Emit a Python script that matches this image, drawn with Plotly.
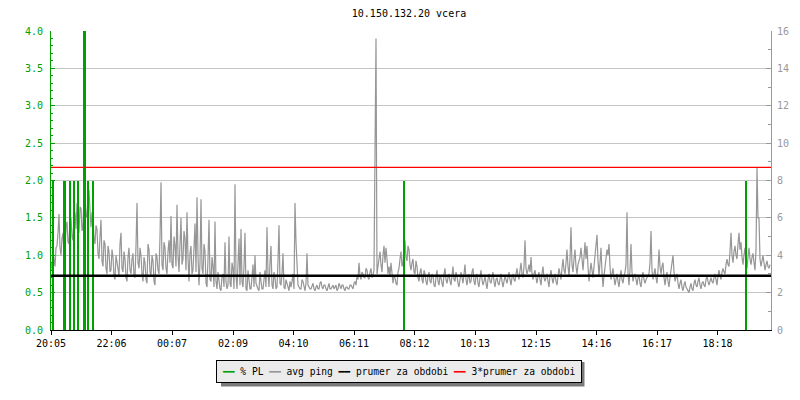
import plotly.graph_objects as go

# ---------------- data ----------------
title_text = "10.150.132.20 vcera"
start_time = "20:05"
span_minutes = 1440
ping_step_minutes = 2
tick_labels = ["20:05", "22:06", "00:07", "02:09", "04:10", "06:11",
               "08:12", "10:13", "12:15", "14:16", "16:17", "18:18"]

# avg ping [ms], one sample every 2 minutes starting 20:05
ping_ms = [
    3.6, 3.2, 4.2, 3.9, 3.4, 4.4, 4.5, 5.2, 6.2, 4.4, 4.0, 4.9, 5.2, 4.1, 4.3, 5.5, 5.8, 4.7, 4.6, 5.9,
    6.0, 5.0, 4.8, 6.1, 6.3, 5.4, 6.8, 5.9, 5.2, 6.6, 6.5, 5.3, 5.6, 7.1, 7.0, 6.0, 6.2, 7.3, 7.5, 6.4,
    5.5, 6.3, 6.0, 4.9, 4.6, 5.6, 5.4, 4.1, 3.8, 5.0, 5.9, 3.7, 3.4, 4.8, 4.6, 3.3, 3.0, 4.5, 4.2, 3.1,
    3.2, 4.3, 3.9, 2.9, 2.7, 4.0, 3.6, 3.0, 2.9, 4.6, 5.2, 3.3, 3.1, 4.2, 3.8, 2.8, 2.6, 3.9, 4.4, 3.2,
    3.0, 3.8, 4.1, 2.9, 2.8, 4.5, 6.8, 3.6, 3.3, 4.4, 4.0, 3.0, 2.6, 3.9, 3.6, 2.7, 2.5, 4.6, 4.3, 3.1,
    2.9, 4.0, 3.7, 2.6, 2.4, 4.1, 3.9, 3.2, 3.0, 5.0, 7.9, 3.5, 3.2, 4.7, 4.4, 3.3, 3.0, 4.2, 4.8, 3.6,
    6.1, 3.5, 3.3, 5.0, 4.5, 3.4, 6.7, 4.0, 3.1, 4.6, 6.0, 3.5, 3.8, 5.3, 4.9, 3.2, 6.3, 3.9, 2.6, 4.1,
    4.5, 3.0, 3.2, 4.4, 5.7, 3.1, 7.1, 4.0, 2.4, 3.6, 7.0, 3.3, 3.0, 4.6, 4.2, 2.5, 2.3, 3.8, 5.9, 2.7,
    2.6, 3.9, 3.4, 2.3, 5.8, 2.6, 2.2, 3.1, 2.5, 2.2, 2.1, 2.9, 3.0, 2.3, 4.7, 2.6, 2.2, 2.4, 5.0, 2.5,
    2.3, 3.6, 3.3, 2.2, 7.8, 2.9, 2.2, 3.8, 4.9, 2.4, 5.4, 2.6, 2.3, 3.4, 5.2, 2.2, 2.1, 3.2, 2.7, 2.2,
    2.2, 2.9, 3.5, 2.3, 4.0, 2.5, 2.3, 2.2, 2.1, 3.1, 2.6, 2.2, 2.2, 2.8, 3.2, 2.3, 5.5, 3.0, 2.3, 3.6,
    4.5, 2.4, 2.2, 3.1, 2.8, 2.2, 2.3, 3.7, 5.6, 2.5, 2.4, 3.0, 4.1, 2.3, 2.2, 2.7, 2.5, 2.2, 2.1, 2.6,
    2.3, 2.6, 3.0, 2.2, 6.8, 4.7, 2.9, 2.4, 2.3, 2.2, 2.2, 2.7, 2.6, 2.2, 2.1, 2.5, 4.1, 2.4, 2.3, 2.2,
    2.2, 2.4, 2.5, 2.2, 2.1, 2.3, 2.4, 2.2, 2.2, 2.5, 2.6, 2.3, 2.2, 2.4, 2.4, 2.2, 2.1, 2.3, 2.5, 2.2,
    2.2, 2.3, 2.4, 2.2, 2.3, 2.4, 2.1, 2.2, 2.5, 2.3, 2.2, 2.4, 2.4, 2.2, 2.1, 2.3, 2.3, 2.2, 2.2, 2.4,
    2.4, 2.3, 2.2, 2.5, 2.6, 2.4, 2.9, 2.7, 3.6, 2.9, 2.7, 3.1, 3.0, 2.8, 2.8, 3.3, 3.2, 2.8, 2.7, 3.1,
    3.3, 2.8, 2.9, 3.2, 12.0, 15.6, 3.0, 3.4, 3.9, 4.2, 3.5, 3.1, 4.0, 4.5, 3.6, 4.4, 3.8, 3.0, 3.4, 2.9,
    3.6, 2.8, 2.5, 2.9, 2.8, 2.5, 2.4, 3.1, 3.3, 3.8, 4.2, 3.4, 3.6, 4.4, 4.8, 3.9, 3.7, 4.5, 4.3, 3.5,
    3.2, 3.6, 3.8, 3.1, 3.0, 3.7, 3.4, 2.8, 2.6, 3.1, 3.3, 2.7, 2.5, 3.2, 3.0, 2.6, 2.4, 2.9, 3.1, 2.6,
    2.5, 3.0, 2.9, 2.4, 2.3, 2.8, 3.2, 2.6, 2.4, 2.9, 2.8, 2.5, 2.3, 3.0, 3.3, 2.7, 2.5, 2.8, 3.0, 2.6,
    2.4, 2.9, 3.4, 2.7, 2.6, 3.1, 2.9, 2.5, 2.3, 2.7, 3.1, 2.8, 2.5, 3.0, 3.5, 2.7, 2.4, 2.8, 3.0, 2.5,
    2.6, 3.1, 3.3, 2.6, 2.4, 2.9, 3.0, 2.5, 2.3, 2.8, 3.2, 2.7, 2.4, 2.6, 2.9, 2.5, 2.2, 2.7, 3.0, 2.6,
    2.5, 2.8, 3.1, 2.6, 2.3, 2.7, 2.8, 2.5, 2.4, 2.7, 3.0, 2.6, 2.3, 2.6, 2.9, 2.7, 2.5, 2.8, 3.1, 2.7,
    2.4, 2.8, 3.0, 2.7, 2.6, 3.0, 3.3, 2.9, 2.7, 3.2, 3.6, 3.0, 2.8, 3.4, 4.8, 3.3, 3.0, 3.2, 3.5, 3.1,
    3.9, 3.0, 2.7, 3.0, 3.2, 2.8, 2.5, 2.9, 3.1, 2.7, 2.4, 3.0, 3.4, 2.8, 2.6, 2.8, 3.0, 2.6, 2.3, 2.9,
    3.2, 2.8, 2.5, 2.8, 3.0, 2.6, 2.4, 2.9, 3.3, 3.0, 2.7, 3.3, 3.8, 3.2, 3.0, 3.6, 4.3, 3.4, 2.9, 3.8,
    5.5, 3.5, 3.1, 3.8, 4.3, 3.4, 3.0, 3.5, 3.7, 3.9, 4.4, 3.6, 3.2, 3.9, 4.7, 3.8, 4.5, 3.4, 2.6, 3.1,
    3.6, 3.2, 2.8, 3.4, 3.9, 4.3, 5.1, 3.7, 2.9, 3.6, 4.4, 3.1, 2.3, 2.9, 3.4, 3.7, 4.3, 4.0, 4.6, 3.4,
    2.7, 3.0, 3.3, 2.8, 2.4, 2.7, 3.0, 2.6, 2.3, 2.8, 3.2, 2.7, 2.5, 2.9, 3.1, 3.5, 6.3, 3.0, 2.4, 3.2,
    4.6, 3.1, 2.6, 2.9, 3.0, 2.7, 2.4, 2.8, 2.9, 2.5, 2.3, 2.8, 3.1, 2.7, 2.5, 2.7, 2.8, 2.9, 3.0, 3.6,
    5.3, 3.2, 2.7, 3.0, 3.3, 2.8, 2.5, 3.2, 4.3, 3.4, 3.0, 3.4, 3.6, 2.8, 2.4, 2.8, 3.1, 2.6, 2.3, 2.8,
    3.3, 3.6, 4.0, 3.1, 2.6, 2.8, 3.0, 2.5, 2.2, 2.5, 2.7, 2.3, 2.1, 2.4, 2.6, 2.3, 2.2, 2.1, 2.0, 2.3,
    2.5, 2.2, 2.1, 2.5, 2.7, 2.4, 2.3, 2.6, 2.8, 2.4, 2.2, 2.5, 2.6, 2.4, 2.3, 2.7, 2.9, 2.6, 2.4, 2.6,
    2.8, 2.6, 2.5, 2.8, 3.0, 2.7, 2.4, 2.9, 3.2, 2.9, 2.7, 3.1, 3.3, 3.1, 3.0, 3.5, 3.8, 3.5, 3.4, 4.2,
    5.2, 4.0, 3.6, 4.2, 4.5, 4.0, 3.8, 4.6, 5.2, 4.3, 4.7, 3.9, 3.5, 4.0, 4.4, 3.7, 3.3, 3.9, 4.4, 3.8,
    3.5, 3.9, 4.1, 3.6, 3.2, 4.3, 8.7, 6.0, 6.0, 3.8, 3.4, 3.7, 4.0, 3.6, 3.2, 3.5, 3.7, 3.4, 3.3, 3.5,
]

# packet loss [%] : minute offset from start, value
pl_minutes = [5, 26, 28, 39, 47, 55, 67, 69, 74, 84, 707, 1391]
pl_percent = [2, 2, 2, 2, 2, 2, 4, 4, 2, 2, 2, 2]

mean_ping_ms = 2.9
legend_names = ["% PL", "avg ping", "prumer za obdobi", "3*prumer za obdobi"]

# ---------------- styling ----------------
GREEN = "#00a000"
GRAY = "#969696"
BLACK = "#000000"
RED = "#ff0000"
FONT = "DejaVu Sans Mono"

W, H = 800, 400
PL_, PR_, PT_, PB_ = 51, 771, 31, 330   # plot area in pixels


def hm(label):
    h, m = label.split(":")
    return int(h) * 60 + int(m)


def offset(label):
    return (hm(label) - hm(start_time)) % 1440


def px_x(px):
    return (px - PL_) / (PR_ - PL_)


def px_y(py):
    return (PB_ - py) / (PB_ - PT_)


ping_x = [i * ping_step_minutes for i in range(len(ping_ms))]
tick_vals = [offset(t) for t in tick_labels]

fig = go.Figure()

fig.add_trace(go.Scatter(
    x=ping_x, y=ping_ms, mode="lines", name=legend_names[1],
    line=dict(color=GRAY, width=1.2), yaxis="y", showlegend=False,
))

fig.add_trace(go.Bar(
    x=pl_minutes, y=pl_percent, name=legend_names[0], width=2.2,
    marker=dict(color=GREEN, line=dict(width=0)), yaxis="y2", showlegend=False,
))

# mean lines
fig.add_shape(type="line", xref="paper", yref="y", x0=0, x1=1,
              y0=mean_ping_ms, y1=mean_ping_ms,
              line=dict(color=BLACK, width=2.5), layer="above")
fig.add_shape(type="line", xref="paper", yref="y", x0=0, x1=1,
              y0=3 * mean_ping_ms, y1=3 * mean_ping_ms,
              line=dict(color=RED, width=1.4), layer="above")

# legend box (shadow + annotation)
fig.add_shape(type="rect", xref="paper", yref="paper",
              x0=px_x(221), x1=px_x(584.5), y0=px_y(362), y1=px_y(386.5),
              fillcolor="#7a7a7a", line=dict(width=0), layer="below")

swatches = [GREEN, GRAY, BLACK, RED]
legend_text = " ".join(
    f'<span style="color:{c}">━━</span> {n}' for c, n in zip(swatches, legend_names)
)
fig.add_annotation(
    xref="paper", yref="paper", x=px_x(399.3), y=px_y(371.2),
    xanchor="center", yanchor="middle", showarrow=False,
    text=legend_text, font=dict(family=FONT, size=9.6, color=BLACK),
    bgcolor="#ebebeb", bordercolor=BLACK, borderwidth=1, borderpad=5,
)

fig.update_layout(
    width=W, height=H,
    margin=dict(l=PL_, r=W - PR_, t=PT_, b=H - PB_),
    paper_bgcolor="white", plot_bgcolor="white",
    font=dict(family=FONT, size=10, color=BLACK),
    title=dict(text=title_text, x=409 / W, xanchor="center",
               y=1 - 13.3 / H, yanchor="middle", yref="container",
               font=dict(family=FONT, size=10, color=BLACK)),
    showlegend=False,
    bargap=0,
    xaxis=dict(
        range=[0, span_minutes], tickvals=tick_vals, ticktext=tick_labels,
        showgrid=False, zeroline=False, showline=True, linecolor=BLACK,
        linewidth=1, ticks="outside", ticklen=4, tickcolor=BLACK,
        tickfont=dict(family=FONT, size=10, color=BLACK),
    ),
    yaxis=dict(
        side="right", range=[0, 16], dtick=2, tick0=0,
        showgrid=True, gridcolor="#c4c4c4", gridwidth=1, zeroline=False,
        showline=True, linecolor="#999999", linewidth=1,
        ticks="inside", ticklen=5, tickcolor="#999999",
        tickfont=dict(family=FONT, size=10, color="#999999"),
        ticklabelstandoff=3,
        minor=dict(dtick=1, ticks="inside", ticklen=3, tickcolor="#999999",
                   showgrid=False),
    ),
    yaxis2=dict(
        overlaying="y", side="left", anchor="x", range=[0, 4], dtick=0.5,
        tick0=0, tickformat=".1f", showgrid=False, zeroline=False,
        showline=True, linecolor=GREEN, linewidth=1,
        ticks="inside", ticklen=4, tickcolor=GREEN,
        tickfont=dict(family=FONT, size=10, color=GREEN),
        ticklabelstandoff=5,
        minor=dict(dtick=0.1, ticks="inside", ticklen=2, tickcolor=GREEN,
                   showgrid=False),
    ),
)

fig.write_html("out.html", config={"displayModeBar": False},
               post_script="document.body.style.margin='0';")
